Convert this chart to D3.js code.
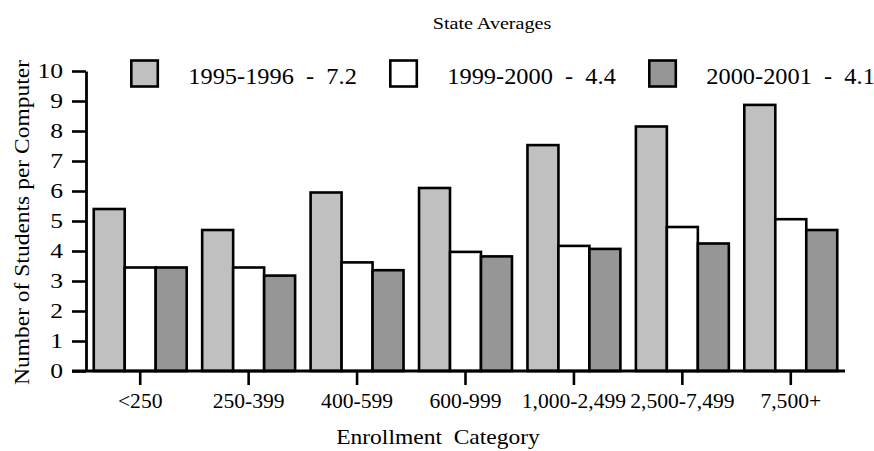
<!DOCTYPE html>
<html>
<head>
<meta charset="utf-8">
<script src="https://cdn.jsdelivr.net/npm/d3@7"></script>
<style>
  html, body { margin: 0; padding: 0; background: #fff; }
  svg { display: block; }
</style>
</head>
<body>
<svg id="chart" width="874" height="451"></svg>
<script>
// ---- data ----
const categories = ["<250", "250-399", "400-599", "600-999", "1,000-2,499", "2,500-7,499", "7,500+"];
const seriesNames = ["1995-1996", "1999-2000", "2000-2001"];
const seriesAverages = ["7.2", "4.4", "4.1"];
const values1995 = [5.4, 4.7, 5.95, 6.1, 7.53, 8.15, 8.87];
const values1999 = [3.45, 3.45, 3.62, 3.97, 4.17, 4.8, 5.06];
const values2000 = [3.45, 3.18, 3.36, 3.82, 4.07, 4.25, 4.7];
const yTicks = [0, 1, 2, 3, 4, 5, 6, 7, 8, 9, 10];
const titleText = "State Averages";
const xTitle = "Enrollment  Category";
const yTitle = "Number of Students per Computer";

const seriesValues = [values1995, values1999, values2000];
const colors = ["#c0c0c0", "#ffffff", "#969696"];
const FONT = '"Liberation Serif", Tinos, "Times New Roman", Times';

const svg = d3.select("#chart");
const mLeft = 86, mRight = 845, mTop = 71, mBottom = 371;

const x0 = d3.scaleBand().domain(categories).range([mLeft, mRight]).paddingInner(0).paddingOuter(0);
const x1 = d3.scaleBand().domain(seriesNames).range([0, x0.bandwidth()]).paddingInner(0).paddingOuter(0.25);
const y = d3.scaleLinear().domain([0, 10]).range([mBottom, mTop]);

// bars
const groups = svg.append("g").selectAll("g")
  .data(categories)
  .join("g")
  .attr("transform", d => `translate(${x0(d)},0)`);

groups.selectAll("rect")
  .data((c, i) => seriesNames.map((s, k) => ({ s, k, v: seriesValues[k][i] })))
  .join("rect")
  .attr("x", d => x1(d.s))
  .attr("width", x1.bandwidth())
  .attr("y", d => y(d.v))
  .attr("height", d => y(0) - y(d.v))
  .attr("fill", d => colors[d.k])
  .attr("stroke", "#000")
  .attr("stroke-width", 2.6);

// y axis
const yAxis = svg.append("g")
  .attr("transform", `translate(${mLeft},0)`)
  .call(d3.axisLeft(y).tickValues(yTicks).tickFormat(d3.format("d")).tickSize(14).tickSizeOuter(0).tickPadding(8));
yAxis.select(".domain").attr("stroke", "#000").attr("stroke-width", 2.8);
yAxis.selectAll(".tick line").attr("stroke", "#000").attr("stroke-width", 2.6);
yAxis.selectAll(".tick text")
  .style("font-family", FONT)
  .style("font-size", "21px")
  .attr("fill", "#000")
  .attr("dy", "0.33em")
  .attr("transform", "scale(1.22,1)")
  .attr("x", -23 / 1.22);

// x axis
const xAxis = svg.append("g")
  .attr("transform", `translate(0,${mBottom})`)
  .call(d3.axisBottom(x0).tickSize(14).tickSizeOuter(0).tickPadding(10));
xAxis.select(".domain").attr("stroke", "#000").attr("stroke-width", 2.8)
  .attr("d", `M${mLeft - 14},0H${mRight}`);
xAxis.selectAll(".tick line").attr("stroke", "#000").attr("stroke-width", 2.6);
xAxis.selectAll(".tick text")
  .style("font-family", FONT)
  .style("font-size", "20px")
  .attr("fill", "#000")
  .attr("dy", "0")
  .attr("y", 37)
  .attr("transform", "scale(1.08,1)");

// title
svg.append("text")
  .attr("transform", "translate(492,28.5) scale(1.15,1)")
  .attr("text-anchor", "middle")
  .style("font-family", FONT)
  .style("font-size", "17.5px")
  .text(titleText);

// axis titles
svg.append("text")
  .attr("transform", "translate(438,444) scale(1.12,1)")
  .attr("text-anchor", "middle")
  .style("font-family", FONT)
  .style("font-size", "21px")
  .style("white-space", "pre")
  .text(xTitle);

svg.append("text")
  .attr("transform", `translate(29,${(60 + 385) / 2}) rotate(-90) scale(1.12,1)`)
  .attr("text-anchor", "middle")
  .style("font-family", FONT)
  .style("font-size", "21px")
  .text(yTitle);

// legend
const legendX = [131.3, 390.3, 649.3];
const legend = svg.append("g").selectAll("g")
  .data(seriesNames)
  .join("g")
  .attr("transform", (d, i) => `translate(${legendX[i]},60.5)`);
legend.append("rect")
  .attr("width", 26.5).attr("height", 26)
  .attr("fill", (d, i) => colors[i])
  .attr("stroke", "#000").attr("stroke-width", 2.6);
legend.append("text")
  .attr("transform", "translate(57,23.5) scale(1.06,1)")
  .style("font-family", FONT)
  .style("font-size", "23px")
  .style("white-space", "pre")
  .text((d, i) => `${d}  -  ${seriesAverages[i]}`);
</script>
</body>
</html>
